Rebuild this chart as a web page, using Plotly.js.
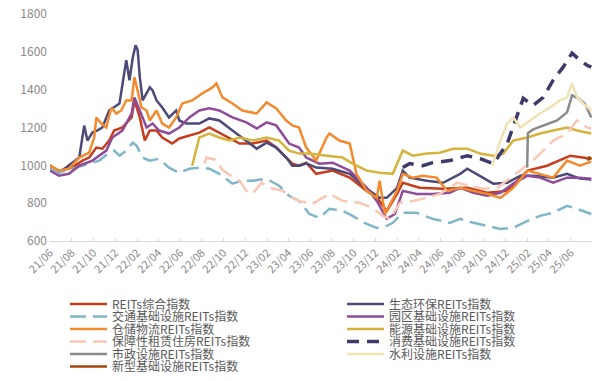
<!DOCTYPE html>
<html><head><meta charset="utf-8">
<script src="https://cdn.plot.ly/plotly-3.0.1.min.js"></script>
<style>html,body{margin:0;padding:0;background:#fff}#chart{width:603px;height:381px}</style>
</head><body><div id="chart"></div>
<script>
// ---- data ----
const datesZonghe = ['2021-06-21','2021-07-16','2021-08-22','2021-09-20','2021-10-09','2021-10-29','2021-11-15','2021-12-04','2021-12-18','2022-01-10','2022-02-05','2022-02-13','2022-02-28','2022-03-14','2022-03-28','2022-04-16','2022-05-02','2022-05-30','2022-06-19','2022-07-17','2022-08-14','2022-09-11','2022-10-09','2022-11-06','2022-12-05','2023-01-10','2023-02-19','2023-03-18','2023-04-15','2023-05-02','2023-05-21','2023-06-10','2023-07-08','2023-08-23','2023-10-10','2023-11-27','2023-12-25','2024-01-22','2024-02-20','2024-03-07','2024-04-23','2024-06-28','2024-09-04','2024-10-30','2024-12-25','2025-02-20','2025-04-16','2025-06-20','2025-08-18'];
const valsZonghe  = [1000,970,988,1025,1041,1094,1088,1131,1184,1200,1253,1343,1253,1131,1184,1184,1147,1115,1142,1158,1173,1200,1173,1147,1115,1115,1131,1094,1041,1009,998,1014,955,972,935,865,830,759,849,908,882,876,882,855,865,972,998,1051,1035];

const datesShengtai = ['2021-06-21','2021-07-16','2021-08-05','2021-08-22','2021-09-11','2021-09-20','2021-09-25','2021-10-04','2021-10-18','2021-10-31','2021-11-15','2021-12-04','2021-12-18','2022-01-02','2022-01-21','2022-01-30','2022-02-08','2022-02-16','2022-02-22','2022-02-28','2022-03-08','2022-03-19','2022-03-28','2022-04-05','2022-04-16','2022-05-02','2022-05-21','2022-06-10','2022-06-19','2022-07-08','2022-08-14','2022-09-11','2022-10-09','2022-11-15','2022-12-24','2023-01-22','2023-02-19','2023-03-18','2023-04-15','2023-05-02','2023-05-21','2023-06-10','2023-07-08','2023-08-23','2023-10-10','2023-11-27','2024-01-02','2024-01-22','2024-02-20','2024-03-07','2024-03-26','2024-05-13','2024-06-28','2024-08-15','2024-09-04','2024-10-10','2024-11-16','2024-12-25','2025-01-31','2025-03-08','2025-05-03','2025-06-11','2025-07-17','2025-08-18'];
const valsShengtai  = [990,961,988,1014,1041,1150,1210,1131,1173,1184,1200,1290,1306,1327,1556,1450,1566,1635,1609,1466,1343,1380,1412,1396,1343,1306,1253,1290,1237,1221,1221,1248,1237,1184,1131,1088,1120,1094,1041,998,998,1010,988,982,955,876,828,828,881,972,935,919,908,955,982,945,903,908,945,945,935,955,930,925];

const datesJiaotong = ['2021-06-21','2021-07-16','2021-08-22','2021-10-09','2021-11-06','2021-12-04','2021-12-18','2022-01-02','2022-01-21','2022-02-08','2022-02-19','2022-03-08','2022-03-28','2022-04-23','2022-05-21','2022-06-19','2022-07-17','2022-08-14','2022-09-11','2022-10-09','2022-11-15','2022-12-13','2023-01-10','2023-02-19','2023-03-26','2023-04-23','2023-05-21','2023-06-19','2023-07-17','2023-08-14','2023-09-20','2023-10-18','2023-11-27','2023-12-25','2024-01-22','2024-02-08','2024-03-07','2024-04-15','2024-05-30','2024-07-17','2024-08-15','2024-09-21','2024-10-30','2024-12-06','2025-01-11','2025-02-20','2025-03-27','2025-05-03','2025-06-11','2025-07-09','2025-08-18'];
const valsJiaotong  = [985,961,982,1009,1025,1067,1078,1051,1078,1120,1104,1041,1025,1035,988,961,982,988,982,955,903,919,919,929,892,839,812,743,722,770,759,733,690,669,680,696,749,749,717,696,717,696,680,664,669,706,733,749,786,770,743];

const datesYuanqu = ['2021-06-21','2021-07-16','2021-08-13','2021-09-11','2021-10-18','2021-11-26','2021-12-13','2022-01-10','2022-02-05','2022-02-13','2022-02-28','2022-03-19','2022-04-05','2022-04-23','2022-05-21','2022-06-19','2022-07-17','2022-08-14','2022-09-11','2022-10-09','2022-11-15','2022-12-24','2023-01-22','2023-02-19','2023-03-18','2023-04-23','2023-05-21','2023-06-10','2023-07-17','2023-08-23','2023-10-10','2023-11-27','2023-12-25','2024-01-22','2024-02-14','2024-03-07','2024-04-15','2024-05-30','2024-07-17','2024-08-15','2024-09-21','2024-10-30','2024-12-06','2025-01-11','2025-02-20','2025-03-27','2025-05-03','2025-06-11','2025-07-17','2025-08-18'];
const valsYuanqu  = [972,945,955,998,1025,1078,1147,1184,1274,1359,1290,1200,1221,1184,1168,1200,1253,1290,1301,1290,1253,1227,1195,1227,1211,1115,1094,1041,1009,1014,972,881,812,717,743,865,849,849,855,881,855,839,855,903,945,935,908,935,935,929];

const datesCangchu = ['2021-06-21','2021-07-16','2021-08-13','2021-09-11','2021-10-09','2021-10-23','2021-10-29','2021-11-12','2021-11-26','2021-12-10','2021-12-24','2022-01-07','2022-01-21','2022-02-05','2022-02-13','2022-02-22','2022-03-05','2022-03-19','2022-03-28','2022-04-16','2022-05-02','2022-05-21','2022-06-10','2022-06-27','2022-07-25','2022-08-22','2022-09-20','2022-10-01','2022-10-18','2022-11-15','2022-12-13','2023-01-22','2023-02-19','2023-03-18','2023-04-15','2023-05-02','2023-05-21','2023-06-10','2023-07-08','2023-08-06','2023-08-14','2023-09-11','2023-10-10','2023-10-29','2023-11-27','2023-12-25','2024-01-02','2024-01-17','2024-01-31','2024-02-20','2024-03-07','2024-04-04','2024-05-02','2024-06-10','2024-07-09','2024-08-15','2024-09-21','2024-10-30','2024-12-06','2025-01-11','2025-02-20','2025-03-27','2025-05-03','2025-06-11','2025-07-17','2025-08-18'];
const valsCangchu  = [998,972,982,1041,1067,1147,1253,1221,1200,1306,1274,1290,1343,1343,1466,1396,1306,1290,1237,1290,1221,1200,1253,1327,1343,1380,1412,1433,1359,1327,1290,1274,1333,1301,1237,1211,1200,1094,1025,1147,1168,1131,1115,955,865,828,919,743,796,865,955,935,945,935,865,881,865,849,828,881,972,955,935,1025,998,1020];

const datesNengyuan = ['2022-07-25','2022-08-14','2022-09-11','2022-10-09','2022-11-06','2022-12-05','2023-01-10','2023-02-19','2023-03-26','2023-04-23','2023-05-21','2023-06-19','2023-08-06','2023-09-20','2023-10-18','2023-11-27','2024-01-02','2024-02-08','2024-03-07','2024-04-04','2024-05-13','2024-06-19','2024-07-26','2024-09-04','2024-10-10','2024-11-16','2024-12-14','2025-01-11','2025-02-20','2025-03-27','2025-05-03','2025-06-11','2025-07-09','2025-08-18'];
const valsNengyuan  = [998,1147,1168,1147,1131,1147,1131,1147,1131,1078,1062,1062,1051,1041,1009,972,961,955,1078,1051,1062,1067,1088,1088,1062,1051,1062,1131,1147,1168,1184,1200,1184,1168];

const datesBaozhang = ['2022-08-28','2022-09-03','2022-09-28','2022-10-18','2022-11-15','2022-12-05','2022-12-24','2023-01-10','2023-02-05','2023-02-28','2023-04-05','2023-05-02','2023-05-21','2023-06-27','2023-08-14','2023-09-20','2023-11-07','2023-12-13','2024-01-11','2024-01-31','2024-02-28','2024-04-04','2024-05-13','2024-06-19','2024-08-06','2024-09-12','2024-10-19','2024-11-27','2025-01-03','2025-01-31','2025-03-08','2025-04-05','2025-05-03','2025-06-11','2025-07-09','2025-08-06','2025-08-18'];
const valsBaozhang  = [1009,1041,1030,975,940,919,865,849,908,881,865,828,812,796,849,812,802,775,733,717,802,812,828,849,908,892,876,881,935,972,1025,1078,1131,1168,1237,1200,1195];

const datesXiaofei = ['2024-03-07','2024-03-26','2024-05-02','2024-05-30','2024-07-17','2024-08-15','2024-09-04','2024-10-10','2024-11-16','2024-12-25','2025-01-22','2025-02-08','2025-03-08','2025-04-05','2025-05-03','2025-05-31','2025-06-25','2025-07-17','2025-08-06','2025-08-18'];
const valsXiaofei  = [988,1009,998,1014,1025,1041,1051,1035,1009,1115,1264,1354,1317,1359,1450,1519,1593,1556,1529,1519];

const datesShizheng = ['2025-02-19','2025-02-21','2025-03-08','2025-04-16','2025-05-14','2025-06-11','2025-06-25','2025-07-12','2025-07-31','2025-08-18'];
const valsShizheng  = [988,1170,1190,1215,1237,1280,1370,1354,1327,1253];

const datesShuili = ['2024-11-13','2024-12-06','2024-12-25','2025-01-11','2025-01-31','2025-02-28','2025-03-27','2025-04-24','2025-05-22','2025-06-11','2025-06-25','2025-07-09','2025-07-26','2025-08-18'];
const valsShuili  = [998,1131,1221,1253,1200,1237,1274,1306,1343,1359,1433,1359,1327,1290];

const datesXinxing = ['2025-08-08','2025-08-12','2025-08-18'];
const valsXinxing  = [1025,1045,1030];

const seriesNames = ['REITs综合指数','生态环保REITs指数','交通基础设施REITs指数','园区基础设施REITs指数','仓储物流REITs指数','能源基础设施REITs指数','保障性租赁住房REITs指数','消费基础设施REITs指数','市政设施REITs指数','水利设施REITs指数','新型基础设施REITs指数'];
const yTickVals = [600,800,1000,1200,1400,1600,1800];

// ---- styling ----
const seriesDates = [datesZonghe,datesShengtai,datesJiaotong,datesYuanqu,datesCangchu,datesNengyuan,datesBaozhang,datesXiaofei,datesShizheng,datesShuili,datesXinxing];
const seriesVals  = [valsZonghe,valsShengtai,valsJiaotong,valsYuanqu,valsCangchu,valsNengyuan,valsBaozhang,valsXiaofei,valsShizheng,valsShuili,valsXinxing];
const colors = ['#c63d1e','#4b4a78','#80b6c9','#8e4c99','#f28a2e','#d4b43c','#fac7b4','#3d3b6a','#8a8a8a','#efe2b4','#a4480e'];
const dashes = ['solid','solid','16px,7px','solid','solid','solid','16px,7px','12px,8px','solid','solid','solid'];
const widths = [2.5,2.5,2.5,2.5,2.5,2.5,2.5,3.5,2.5,2.5,2.5];

const legendFont = {family:'"Noto Sans CJK SC", "Noto Sans", sans-serif', size:12, color:'#595959'};
const colX = [0.1078, 0.5672];                          // container fractions
const rowY = [0.2021, 0.1693, 0.1365, 0.1037, 0.0709, 0.0381];

const traces = seriesNames.map((name,i)=>({
  type:'scatter', mode:'lines', name:name,
  x:seriesDates[i], y:seriesVals[i],
  line:{color:colors[i], width:widths[i], dash:dashes[i]},
  legend: i===0 ? 'legend' : 'legend'+(i+1),
  hoverinfo:'skip'
}));

const layout = {
  width:603, height:381,
  margin:{l:50, r:11, t:14, b:140, autoexpand:false},
  paper_bgcolor:'#fff', plot_bgcolor:'#fff',
  font:{family:'"Noto Sans CJK SC", "Noto Sans", sans-serif', color:'#888'},
  xaxis:{
    type:'date', range:['2021-06-21','2025-08-20'],
    tick0:'2021-06-21', dtick:'M2', tickformat:'%y/%m',
    tickangle:-45, tickfont:{size:11, color:'#8a8a8a'},
    showgrid:false, zeroline:false, automargin:false,
    showline:true, linecolor:'#d9d9d9', linewidth:1,
    ticks:'inside', ticklen:3, tickcolor:'#d9d9d9'
  },
  yaxis:{
    range:[600,1800], tickvals:yTickVals, automargin:false,
    tickfont:{size:12, color:'#8a8a8a'},
    showgrid:false, zeroline:false, showline:false, ticks:'',
    ticklabelstandoff:2
  },
  showlegend:true
};
seriesNames.forEach((n,i)=>{
  const key = i===0 ? 'legend' : 'legend'+(i+1);
  layout[key] = {
    xref:'container', yref:'container',
    x: colX[i%2], xanchor:'left',
    y: rowY[Math.floor(i/2)], yanchor:'middle',
    orientation:'v', bgcolor:'rgba(0,0,0,0)', borderwidth:0,
    itemwidth:37, font:legendFont, tracegroupgap:0,
    itemclick:false, itemdoubleclick:false
  };
});

Plotly.newPlot('chart', traces, layout, {displayModeBar:false, staticPlot:true});
</script>
</body></html>
